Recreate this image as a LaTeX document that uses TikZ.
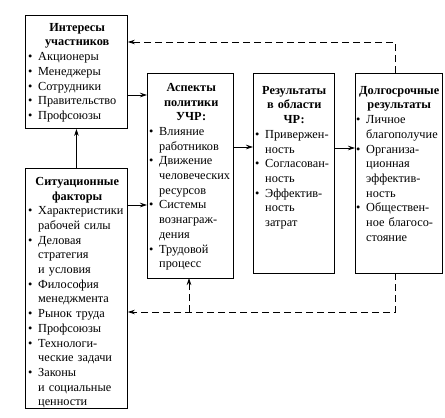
\documentclass[tikz,border=0pt]{standalone}
\usepackage{fontspec}
\setmainfont{Liberation Serif}
\usetikzlibrary{arrows.meta,calc}
\newcommand{\bu}{\makebox[10pt][l]{•}}
\newcommand{\ct}{\hspace*{10pt}}
\newcommand{\hd}[1]{\makebox[\hsize][c]{\bfseries #1}}
\begin{document}
\begin{tikzpicture}[x=1pt,y=-1pt,
  box/.style={draw,line width=0.9pt,inner sep=0pt,anchor=north west},
  txt/.style={anchor=north west,inner sep=0pt,align=left,font=\fontsize{12.3}{14.7}\selectfont},
  arr/.style={line width=0.7pt,-{Stealth[length=7pt,width=4.5pt]}},
  darr/.style={line width=0.7pt,dash pattern=on 7pt off 4pt,-{Stealth[length=7pt,width=4.5pt]}}]
\useasboundingbox (0,0) rectangle (445,418);
% boxes
\node[box,minimum width=102pt,minimum height=113pt] (b1) at (25,15) {};
\node[box,minimum width=102pt,minimum height=240pt] (b2) at (25,168) {};
\node[box,minimum width=86pt,minimum height=205pt] (b3) at (147,73) {};
\node[box,minimum width=81pt,minimum height=200pt] (b4) at (253,73) {};
\node[box,minimum width=87pt,minimum height=200pt] (b5) at (355,73) {};
% texts
\node[txt,text width=98pt] (t1) at (28,23) {%
\hd{Интересы}\\
\hd{участников}\\
\bu Акционеры\\
\bu Менеджеры\\
\bu Сотрудники\\
\bu Правительство\\
\bu Профсоюзы};
\node[txt,text width=98pt] (t2) at (28,177) {%
\hd{Ситуационные}\\
\hd{факторы}\\
\bu Характеристики\\
\ct рабочей силы\\
\bu Деловая\\
\ct стратегия\\
\ct и условия\\
\bu Философия\\
\ct менеджмента\\
\bu Рынок труда\\
\bu Профсоюзы\\
\bu Технологи-\\
\ct ческие задачи\\
\bu Законы\\
\ct и социальные\\
\ct ценности};
\node[txt,text width=84pt] (t3) at (149,83) {%
\hd{Аспекты}\\
\hd{политики}\\
\hd{УЧР:}\\
\bu Влияние\\
\ct работников\\
\bu Движение\\
\ct человеческих\\
\ct ресурсов\\
\bu Системы\\
\ct вознаграж-\\
\ct дения\\
\bu Трудовой\\
\ct процесс};
\node[txt,text width=78pt] (t4) at (255,86) {%
\hd{Результаты}\\
\hd{в области}\\
\hd{ЧР:}\\
\bu Привержен-\\
\ct ность\\
\bu Согласован-\\
\ct ность\\
\bu Эффектив-\\
\ct ность\\
\ct затрат};
\node[txt,text width=86pt] (t5) at (356,86) {%
\hd{Долгосрочные}\\
\hd{результаты}\\
\bu Личное\\
\ct благополучие\\
\bu Организа-\\
\ct ционная\\
\ct эффектив-\\
\ct ность\\
\bu Обществен-\\
\ct ное благосо-\\
\ct стояние};
% solid connectors
\draw[arr] (b2.north) -- (b1.south);
\coordinate (p1) at (b1.east |- 0,95);
\coordinate (q1) at (b3.west |- 0,95);
\draw[arr] (p1) -- (q1);
\coordinate (p2) at (b2.east |- 0,205);
\coordinate (q2) at (b3.west |- 0,205);
\draw[arr] (p2) -- (q2);
\coordinate (p3) at (b3.east |- 0,147);
\coordinate (q3) at (b4.west |- 0,147);
\draw[arr] (p3) -- (q3);
\coordinate (p4) at (b4.east |- 0,148);
\coordinate (q4) at (b5.west |- 0,148);
\draw[arr] (p4) -- (q4);
% dashed feedback
\coordinate (d1) at (395,73);
\coordinate (d2) at (395,42);
\coordinate (d3) at (b1.east |- d2);
\draw[darr] (d1) -- (d2) -- (d3);
\coordinate (e1) at (395,273);
\coordinate (e2) at (395,312);
\coordinate (e3) at (b2.east |- e2);
\draw[darr] (e1) -- (e2) -- (e3);
\coordinate (f1) at (189,312);
\coordinate (f2) at (189,278);
\draw[darr] (f1) -- (f2);
\end{tikzpicture}
\end{document}
